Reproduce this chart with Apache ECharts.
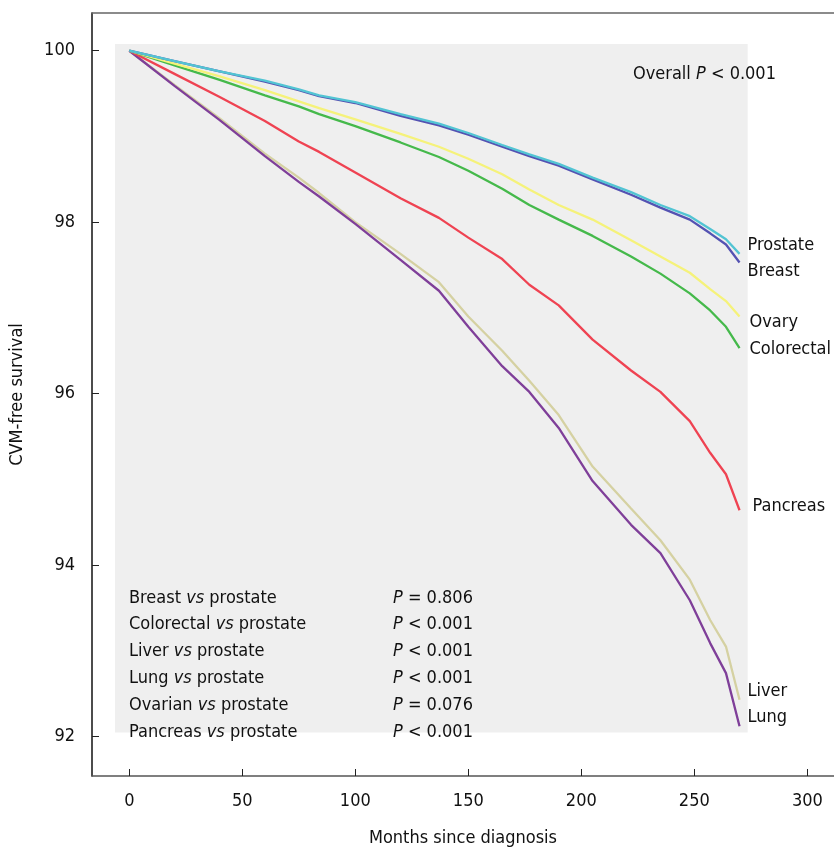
<!DOCTYPE html>
<html><head><meta charset="utf-8">
<script src="https://cdn.jsdelivr.net/npm/echarts@6/dist/echarts.min.js"></script>
<style>html,body{margin:0;padding:0;background:#fff;overflow:hidden}#c{width:834px;height:847px}</style>
</head><body><div id="c"></div>
<script>
const months    = [0, 20, 40, 60, 75, 84, 100, 120, 137, 150, 165, 177, 190, 205, 222, 235, 248, 257, 264, 270];
const prostate  = [100, 99.88, 99.76, 99.65, 99.55, 99.48, 99.40, 99.26, 99.15, 99.04, 98.90, 98.79, 98.68, 98.52, 98.35, 98.20, 98.07, 97.92, 97.80, 97.63];
const breast    = [100, 99.88, 99.76, 99.64, 99.54, 99.47, 99.39, 99.24, 99.13, 99.02, 98.88, 98.77, 98.66, 98.50, 98.32, 98.17, 98.03, 97.87, 97.74, 97.53];
const ovary     = [100, 99.85, 99.70, 99.54, 99.41, 99.33, 99.20, 99.03, 98.88, 98.74, 98.56, 98.38, 98.20, 98.03, 97.79, 97.60, 97.41, 97.22, 97.08, 96.90];
const colorectal= [100, 99.83, 99.66, 99.48, 99.35, 99.26, 99.12, 98.93, 98.76, 98.60, 98.39, 98.20, 98.03, 97.84, 97.60, 97.40, 97.17, 96.97, 96.78, 96.53];
const pancreas  = [100, 99.73, 99.46, 99.18, 98.94, 98.82, 98.58, 98.28, 98.05, 97.82, 97.57, 97.27, 97.03, 96.63, 96.27, 96.02, 95.68, 95.31, 95.06, 94.64];
const liver     = [100, 99.60, 99.21, 98.80, 98.52, 98.34, 98.00, 97.63, 97.30, 96.90, 96.50, 96.15, 95.75, 95.15, 94.66, 94.29, 93.83, 93.36, 93.05, 92.43];
const lung      = [100, 99.59, 99.19, 98.77, 98.47, 98.30, 97.98, 97.56, 97.20, 96.78, 96.32, 96.02, 95.60, 94.98, 94.47, 94.14, 93.59, 93.09, 92.74, 92.12];

const xTicks = [0, 50, 100, 150, 200, 250, 300];
const yTicks = [92, 94, 96, 98, 100];

const compNames  = ['Breast', 'Colorectal', 'Liver', 'Lung', 'Ovarian', 'Pancreas'];
const compSigns  = ['=', '<', '<', '<', '=', '<'];
const compValues = ['0.806', '0.001', '0.001', '0.001', '0.076', '0.001'];
const overallText = 'Overall {i|P} < 0.001';

const FONT = "'DejaVu Sans Condensed', 'DejaVu Sans', sans-serif";
const FS = 18;

function pairs(vals) { return months.map((m, i) => [m, vals[i]]); }

const curves = [
  { name: 'Liver',      data: liver,      color: '#d5d1a2', off: [0, -8] },
  { name: 'Lung',       data: lung,       color: '#7f3f99', off: [0, -9] },
  { name: 'Pancreas',   data: pancreas,   color: '#ef4352', off: [5, -4] },
  { name: 'Colorectal', data: colorectal, color: '#45b94b', off: [2, 1] },
  { name: 'Ovary',      data: ovary,      color: '#f5f27a', off: [2, 6] },
  { name: 'Breast',     data: breast,     color: '#5452b2', off: [0, 9] },
  { name: 'Prostate',   data: prostate,   color: '#52c4d3', off: [0, -9] }
];

const series = [{
  type: 'line', data: [], z: 1, silent: true,
  markArea: {
    silent: true,
    itemStyle: { color: '#efefef' },
    data: [[{ coord: [-6.3, 100.078] }, { coord: [273.6, 92.047] }]]
  }
}];
curves.forEach(c => {
  series.push({
    type: 'line', name: c.name, data: pairs(c.data), z: 3,
    showSymbol: false, symbol: 'none', animation: false,
    lineStyle: { color: c.color, width: 2.3 },
    endLabel: {
      show: true, formatter: c.name, offset: c.off,
      fontFamily: FONT, fontSize: FS, color: '#111'
    }
  });
});

const richI = { i: { fontStyle: 'italic', fontFamily: FONT, fontSize: FS, fill: '#111' } };
const graphics = [];
compNames.forEach((n, i) => {
  const y = 597 + 26.8 * i;
  graphics.push({
    type: 'text', left: 129, top: y - 8, z: 100,
    style: { text: n + ' {i|vs} prostate', font: FS + 'px ' + FONT, fill: '#111', rich: richI }
  });
  graphics.push({
    type: 'text', left: 393, top: y - 8, z: 100,
    style: { text: '{i|P} ' + compSigns[i] + ' ' + compValues[i], font: FS + 'px ' + FONT, fill: '#111', rich: richI }
  });
});
graphics.push({
  type: 'text', left: 633, top: 65, z: 100,
  style: { text: overallText, font: FS + 'px ' + FONT, fill: '#111', rich: richI }
});

const chart = echarts.init(document.getElementById('c'), null, { renderer: 'canvas' });
chart.setOption({
  animation: false,
  backgroundColor: '#fff',
  grid: { left: 92, top: 13, right: 0, bottom: 71, containLabel: false, outerBoundsMode: 'none' },
  xAxis: [{
    type: 'value', min: -16.5, max: 311.8,
    name: 'Months since diagnosis', nameLocation: 'middle', nameGap: 53,
    nameTextStyle: { fontFamily: FONT, fontSize: FS, color: '#111' },
    splitLine: { show: false },
    axisLine: { show: true, onZero: false, lineStyle: { color: '#555', width: 1.5 } },
    axisTick: { show: true, inside: true, length: 7, customValues: xTicks, lineStyle: { color: '#222' } },
    axisLabel: { customValues: xTicks, margin: 16, fontFamily: FONT, fontSize: FS, color: '#111' }
  }, {
    type: 'value', position: 'top', min: -16.5, max: 311.8,
    axisLine: { show: true, lineStyle: { color: '#666', width: 1.5 } },
    axisTick: { show: false }, axisLabel: { show: false }, splitLine: { show: false }
  }],
  yAxis: {
    type: 'value', min: 91.54, max: 100.44,
    name: 'CVM-free survival', nameLocation: 'middle', nameGap: 66,
    nameTextStyle: { fontFamily: FONT, fontSize: FS, color: '#111' },
    splitLine: { show: false },
    axisLine: { show: true, onZero: false, lineStyle: { color: '#111', width: 1.5 } },
    axisTick: { show: true, inside: true, length: 7, customValues: yTicks, lineStyle: { color: '#222' } },
    axisLabel: { customValues: yTicks, margin: 17, fontFamily: FONT, fontSize: FS, color: '#111' }
  },
  series: series,
  graphic: graphics
});
</script></body></html>
